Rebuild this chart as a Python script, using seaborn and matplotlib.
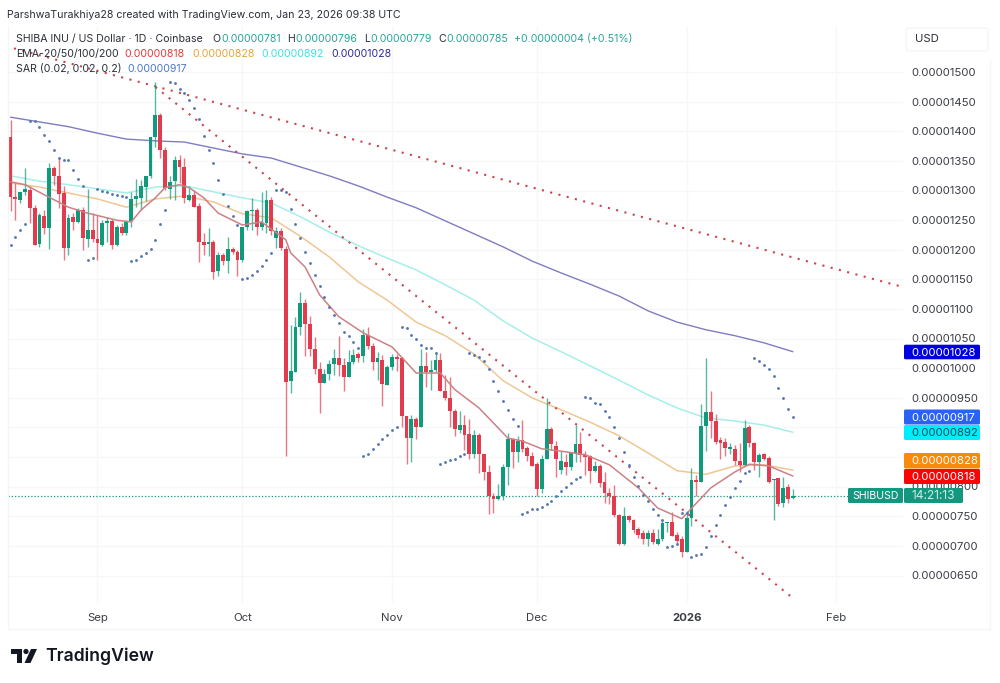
import numpy as np
import pandas as pd
import matplotlib
matplotlib.use("Agg")
import matplotlib.pyplot as plt
import matplotlib.dates as mdates
from matplotlib.patches import FancyBboxPatch, Rectangle, Circle, Polygon
from matplotlib.transforms import IdentityTransform
import seaborn as sns

# prices are in units of 0.00000001 USD, one value per daily candle
start_date = "2025-08-14"

opens = [1390, 1289, 1284, 1298, 1301, 1270, 1210, 1257, 1237, 1339,
         1325, 1296, 1203, 1255, 1247, 1267, 1219, 1234, 1218, 1209,
         1245, 1248, 1209, 1238, 1228, 1248, 1286, 1287, 1306, 1325,
         1391, 1428, 1368, 1302, 1317, 1352, 1340, 1284, 1293, 1274,
         1213, 1210, 1213, 1165, 1191, 1181, 1202, 1197, 1182, 1239,
         1265, 1267, 1238, 1245, 1285, 1220, 1232, 1201, 979, 994,
         1070, 1111, 1074, 1033, 999, 975, 990, 1007, 1018, 1005,
         985, 1011, 1024, 1020, 1056, 1038, 1010, 1014, 972, 1002,
         1019, 1017, 919, 883, 914, 901, 1004, 994, 997, 1014,
         962, 949, 928, 895, 904, 889, 856, 887, 855, 824,
         785, 779, 784, 833, 880, 859, 879, 865, 852, 838,
         796, 846, 898, 869, 829, 842, 833, 857, 872, 853,
         851, 827, 835, 808, 790, 784, 752, 703, 751, 743,
         729, 721, 712, 721, 704, 711, 738, 740, 718, 711,
         689, 747, 811, 808, 903, 926, 911, 879, 875, 863,
         864, 844, 837, 901, 873, 842, 855, 848, 811, 814,
         772, 799, 781]
closes = [1290, 1286, 1298, 1302, 1270, 1208, 1258, 1237, 1338, 1325,
          1295, 1203, 1253, 1247, 1267, 1220, 1234, 1218, 1211, 1245,
          1248, 1209, 1238, 1228, 1248, 1286, 1291, 1307, 1325, 1391,
          1428, 1368, 1304, 1315, 1351, 1340, 1287, 1293, 1273, 1213,
          1209, 1213, 1163, 1192, 1181, 1201, 1197, 1182, 1239, 1265,
          1268, 1238, 1245, 1284, 1231, 1232, 1203, 976, 995, 1070,
          1111, 1074, 1033, 999, 975, 991, 1007, 1018, 1006, 985,
          1011, 1023, 1018, 1056, 1037, 1011, 1017, 973, 1002, 1019,
          1016, 919, 883, 915, 901, 1004, 993, 997, 1014, 962,
          949, 928, 897, 904, 888, 856, 887, 855, 824, 784,
          780, 784, 833, 880, 859, 878, 863, 852, 835, 796,
          846, 898, 872, 846, 843, 833, 858, 872, 853, 850,
          827, 835, 807, 790, 785, 752, 703, 751, 743, 727,
          718, 712, 721, 706, 711, 738, 739, 717, 709, 689,
          747, 811, 808, 903, 926, 911, 876, 873, 865, 867,
          844, 837, 899, 874, 841, 854, 846, 808, 813, 771,
          797, 780, 785]
highs = [1420, 1313, 1298, 1338, 1307, 1276, 1262, 1268, 1347, 1341,
         1353, 1307, 1261, 1262, 1270, 1272, 1302, 1262, 1259, 1251,
         1256, 1252, 1242, 1245, 1251, 1298, 1319, 1318, 1325, 1391,
         1483, 1431, 1374, 1324, 1359, 1360, 1355, 1307, 1301, 1279,
         1228, 1237, 1217, 1197, 1194, 1222, 1204, 1200, 1239, 1268,
         1287, 1270, 1297, 1301, 1290, 1239, 1237, 1206, 1073, 1087,
         1129, 1117, 1089, 1052, 1011, 999, 1014, 1032, 1055, 1017,
         1031, 1032, 1028, 1067, 1070, 1042, 1028, 1022, 1006, 1024,
         1024, 1019, 919, 921, 917, 1033, 1027, 1014, 1028, 1025,
         989, 986, 932, 927, 921, 915, 896, 890, 856, 836,
         789, 804, 839, 890, 883, 885, 913, 868, 859, 842,
         853, 949, 900, 877, 861, 856, 859, 904, 893, 861,
         853, 843, 838, 825, 797, 803, 754, 765, 752, 745,
         732, 727, 727, 729, 728, 744, 741, 757, 724, 716,
         759, 831, 820, 940, 1017, 962, 923, 884, 882, 874,
         870, 874, 913, 904, 876, 857, 857, 851, 813, 815,
         816, 805, 796]
lows = [1265, 1251, 1279, 1293, 1245, 1208, 1204, 1227, 1202, 1310,
        1270, 1183, 1192, 1234, 1245, 1199, 1204, 1214, 1182, 1206,
        1214, 1202, 1206, 1225, 1225, 1239, 1273, 1268, 1282, 1321,
        1373, 1355, 1301, 1286, 1284, 1313, 1279, 1282, 1273, 1179,
        1192, 1190, 1150, 1155, 1175, 1161, 1193, 1155, 1180, 1233,
        1234, 1225, 1234, 1228, 1225, 1203, 1200, 851, 959, 994,
        1056, 1021, 1021, 990, 925, 975, 980, 989, 987, 961,
        985, 1008, 1010, 1011, 1032, 997, 980, 936, 972, 997,
        996, 901, 838, 842, 880, 901, 969, 963, 994, 962,
        946, 900, 886, 890, 862, 846, 848, 823, 812, 754,
        755, 777, 777, 803, 832, 842, 859, 843, 835, 784,
        789, 846, 862, 816, 822, 820, 828, 842, 842, 820,
        807, 825, 800, 773, 771, 749, 701, 701, 740, 721,
        713, 704, 700, 704, 701, 709, 724, 716, 704, 682,
        689, 734, 784, 808, 860, 882, 872, 847, 851, 856,
        837, 825, 837, 867, 829, 816, 845, 806, 744, 768,
        766, 772, 779]
sar = [1208, 1221, 1233, 1244, 1418, 1417, 1407, 1394, 1383, 1369,
       1355, 1352, 1352, 1335, 1320, 1307, 1183, 1186, 1302, 1300,
       1298, 1295, 1293, 1291, 1289, 1181, 1183, 1189, 1194, 1202,
       1217, 1244, 1268, 1484, 1481, 1471, 1465, 1453, 1439, 1421,
       1393, 1368, 1346, 1318, 1294, 1274, 1257, 1242, 1150, 1152,
       1158, 1165, 1173, 1183, 1195, 1301, 1301, 1298, 1269, 1244,
       1220, 1197, 1177, 1158, 1139, 1121, 1104, 1090, 1076, 1062,
       1055, 1045, 1035, 851, 855, 864, 872, 880, 887, 896,
       901, 1070, 1068, 1057, 1049, 1040, 1034, 1034, 1026, 838,
       842, 845, 847, 851, 855, 1025, 1022, 1019, 1013, 999,
       979, 962, 945, 930, 915, 903, 754, 758, 762, 763,
       766, 770, 776, 784, 793, 799, 806, 813, 816, 951,
       949, 942, 940, 928, 917, 901, 883, 858, 837, 816,
       801, 786, 776, 763, 752, 744, 699, 700, 704, 756,
       756, 682, 685, 687, 699, 717, 735, 752, 769, 783,
       797, 810, 823, 827, 1017, 1013, 1005, 998, 987, 967,
       949, 932, 917]

# slow averages read every six days
ema_days = list(range(0, 163, 6))
ema50 = [1313, 1306, 1296, 1286, 1272, 1286, 1291, 1281, 1261, 1254,
         1223, 1188, 1146, 1115, 1078, 1055, 1024, 979, 950, 930,
         909, 886, 857, 827, 821, 835, 837, 828]
ema100 = [1325, 1316, 1310, 1303, 1296, 1306, 1308, 1298, 1288, 1279,
          1256, 1230, 1207, 1186, 1166, 1141, 1115, 1080, 1051, 1028,
          1004, 980, 955, 933, 916, 911, 904, 892]
ema200 = [1424, 1416, 1408, 1397, 1387, 1384, 1382, 1372, 1362, 1355,
          1340, 1325, 1308, 1289, 1271, 1249, 1227, 1205, 1181, 1161,
          1142, 1122, 1097, 1078, 1065, 1055, 1043, 1028]
ema20_days = [0, 3, 7, 12, 16, 22, 25, 27, 30, 32, 35, 37, 40, 43, 48, 52, 55,
              57, 58, 61, 64, 68, 73, 79, 84, 89, 92, 97, 103, 106, 110, 114,
              119, 124, 130, 134, 139, 142, 145, 150, 153, 157, 162]
ema20 = [1315, 1310, 1293, 1272, 1262, 1250, 1247, 1267, 1288, 1305, 1310, 1305,
         1288, 1262, 1242, 1247, 1229, 1217, 1195, 1171, 1124, 1087, 1060, 1036,
         992, 992, 964, 933, 882, 877, 864, 860, 854, 837, 798, 764, 746, 772,
         798, 825, 838, 835, 818]

# dotted trendlines, (day, price) at both ends
trend_upper_days = [-1, 184]
trend_upper = [1544, 1139]
trend_lower_days = [30, 162]
trend_lower = [1475, 612]

price_ticks = list(range(650, 1501, 50))
hidden_ticks = [850, 900]  # covered by the price tags on the original
month_labels = ["Sep", "Oct", "Nov", "Dec", "2026", "Feb"]
month_dates = ["2025-09-01", "2025-10-01", "2025-11-01", "2025-12-01", "2026-01-01", "2026-02-01"]
tag_labels = ["0.00001028", "0.00000917", "0.00000892", "0.00000828", "0.00000818"]
tag_colors = ["#0000e0", "#2962f5", "#00eefc", "#fb8a0c", "#fa0505"]

UP = "#0f9a7c"
DOWN = "#e23b4e"
GRID = "#f6f7f9"
LABEL = "#3a3d45"

sns.set_theme(style="white")
plt.rcParams["font.family"] = ["Inter", "DejaVu Sans"]

W, H = 1000, 683
fig = plt.figure(figsize=(W / 100, H / 100), dpi=100, facecolor="white")
# pane spans x 8..903 and y 26..603 in picture pixels
ax = fig.add_axes([8 / W, 1 - 603 / H, 895 / W, 577 / H])
pixel = IdentityTransform()

df = pd.DataFrame({"open": opens, "high": highs, "low": lows, "close": closes, "sar": sar})
df["date"] = pd.date_range(start_date, periods=len(df), freq="D")
first_day = mdates.date2num(df["date"].iloc[0])


def day_dates(days):
    return pd.to_datetime(start_date) + pd.to_timedelta(days, unit="D")


ax.set_xlim(first_day - 0.52, first_day + 184.8)
ax.set_ylim(603.6, 1578)
ax.xaxis_date()

for tick in price_ticks:
    ax.axhline(tick, color=GRID, lw=0.9, zorder=0)
month_x = pd.to_datetime(month_dates)
for d in month_x:
    ax.axvline(d, color=GRID, lw=0.9, zorder=0)

# indicators under the candles
sns.lineplot(x=day_dates(ema_days), y=ema200, ax=ax, color="#7f7cc4", lw=1.0, zorder=2)
sns.lineplot(x=day_dates(ema_days), y=ema100, ax=ax, color="#a6efe9", lw=1.1, zorder=2)
sns.lineplot(x=day_dates(ema_days), y=ema50, ax=ax, color="#efc795", lw=1.1, zorder=2)

sns.lineplot(x=day_dates(trend_upper_days), y=trend_upper, ax=ax, color="#c9454c",
             lw=1.5, linestyle=(0, (1, 3.1)), zorder=3)
sns.lineplot(x=day_dates(trend_lower_days), y=trend_lower, ax=ax, color="#c9454c",
             lw=1.5, linestyle=(0, (1, 3.1)), zorder=3)

# candles
is_up = df["close"] >= df["open"]
colors = np.where(is_up, UP, DOWN)
ax.vlines(df["date"], df["low"], df["high"], colors=colors, lw=1.0, alpha=0.7, zorder=4)
ax.bar(df["date"], (df["close"] - df["open"]).abs().clip(lower=2),
       bottom=df[["open", "close"]].min(axis=1), width=0.8, color=colors, lw=0, zorder=5)

sns.lineplot(x=day_dates(ema20_days), y=ema20, ax=ax, color="#cc8185", lw=1.1, zorder=6)
sns.scatterplot(data=df, x="date", y="sar", ax=ax, color="#5577b0", s=4.2, linewidth=0, zorder=6)

ax.axhline(closes[-1], xmax=(848 - 8) / 895, color=UP, lw=0.9, linestyle=(0, (1, 1.6)), zorder=3)

ax.set_xlabel("")
ax.set_ylabel("")
ax.set_xticks([])
ax.set_yticks([])
for spine in ax.spines.values():
    spine.set_visible(False)


def fig_text(x, y, s, **kw):
    # x, y in picture pixels, y is the text centre
    kw.setdefault("va", "center")
    kw.setdefault("fontsize", 7.6)
    kw.setdefault("color", "#2a2e39")
    return fig.text(x / W, 1 - (y + 0.7) / H, s, **kw)


def fig_box(x0, y0, x1, y1, color):
    fig.add_artist(FancyBboxPatch((x0, H - y1), x1 - x0, y1 - y0, boxstyle="round,pad=0,rounding_size=1.5",
                                  transform=pixel, facecolor=color, edgecolor="none", zorder=10))


# outer frame, price axis and date strip
for xs, ys in [((8, 8), (26, 629)), ((990, 990), (60, 629)), ((8, 990), (629, 629))]:
    fig.add_artist(plt.Line2D([xs[0] / W, xs[1] / W], [1 - ys[0] / H, 1 - ys[1] / H], color="#f4f5f7", lw=0.9))

# header
fig_text(7, 14, "ParshwaTurakhiya28 created with TradingView.com, Jan 23, 2026 09:38 UTC", fontsize=7.65)
quote = "#26a69a"
fig_text(16, 38, "SHIBA INU / US Dollar · 1D · Coinbase")
for x, s in [(212.5, "O"), (287.5, "H"), (364.5, "L"), (438.5, "C")]:
    fig_text(x, 38, s)
for x, s in [(221, "0.00000781"), (295, "0.00000796"), (370, "0.00000779"), (446, "0.00000785"),
             (514, "+0.00000004 (+0.51%)")]:
    fig_text(x, 38, s, color=quote)
fig_text(16, 53, "EMA-20/50/100/200")
for x, s, c in [(124, "0.00000818", "#e53a3a"), (192, "0.00000828", "#e5a33a"),
                (261, "0.00000892", "#3fe0e0"), (331, "0.00001028", "#2b2b9e")]:
    fig_text(x, 53, s, color=c)
fig_text(16, 68, "SAR (0.02, 0.02, 0.2)")
fig_text(127.5, 68, "0.00000917", color="#4a78c8")

# price axis
for tick in price_ticks:
    if tick not in hidden_ticks:
        fig_text(911.5, 368.3 - (tick - 1000) * 0.592, f"{tick / 1e8:.8f}", fontsize=8.2, color=LABEL)

tag_rows = [(344.7, 359.3), (409.5, 424.5), (425, 440), (453, 468.5), (469, 484)]
for s, c, (y0, y1) in zip(tag_labels, tag_colors, tag_rows):
    fig_box(904, y0, 980, y1, c)
    fig_text(911.5, (y0 + y1) / 2, s, fontsize=8.2, color="#0b4f55" if c == "#00eefc" else "white", zorder=11)

fig_box(848, 488, 903, 503, "#13987f")
fig_box(904, 488, 963, 503, "#13987f")
fig_text(852, 495.5, "SHIBUSD", fontsize=7.6, color="white", zorder=11)
fig_text(912, 495.5, "14:21:13", fontsize=8.6, color="#cfeee6", zorder=11)

fig.add_artist(FancyBboxPatch((906, H - 51), 82, 23, boxstyle="round,pad=0,rounding_size=3",
                              transform=pixel, facecolor="white", edgecolor="#f3f4f6", lw=0.9, zorder=10))
fig_text(915, 38.5, "USD", fontsize=8.2, zorder=11)

# date strip
for s, d in zip(month_labels, month_x):
    px = 8 + (mdates.date2num(d) - (first_day - 0.52)) / (184.8 + 0.52) * 895
    fig_text(px, 617.5, s, ha="center", fontsize=8.2, color=LABEL, fontweight="bold" if s == "2026" else "normal")

# logo
logo = "#131722"
fig.add_artist(Rectangle((10.7, H - 654), 11.3, 5, transform=pixel, color=logo, lw=0))
fig.add_artist(Rectangle((16.5, H - 663), 5.5, 14, transform=pixel, color=logo, lw=0))
fig.add_artist(Circle((26, H - 651.5), 2.6, transform=pixel, color=logo, lw=0))
fig.add_artist(Polygon([(31, H - 649), (37, H - 649), (30.5, H - 663), (24.5, H - 663)], transform=pixel, color=logo, lw=0))
fig_text(45, 656, "TradingView", fontsize=12.7, fontweight="semibold", color=logo)

fig.savefig("out.png", dpi=100)
